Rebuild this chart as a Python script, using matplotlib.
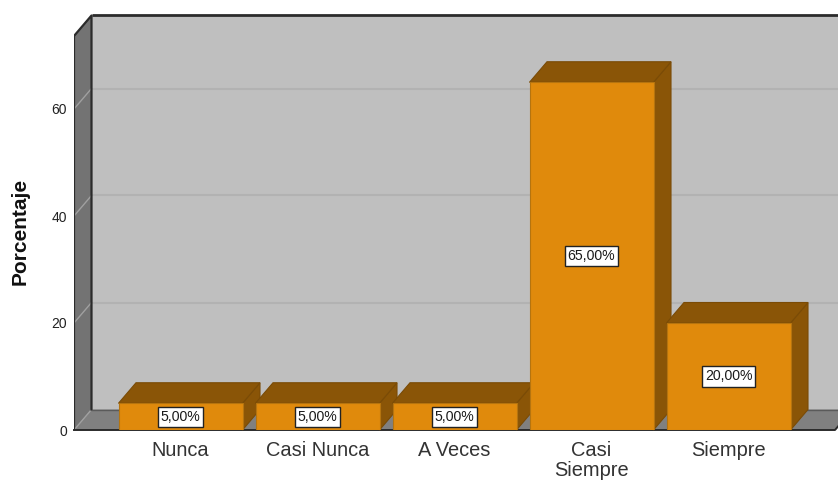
import matplotlib
matplotlib.use("Agg")
import matplotlib.pyplot as plt
from matplotlib.patches import Polygon

plt.rcParams['font.family'] = ['Liberation Sans', 'DejaVu Sans']

categorias = ["Nunca", "Casi Nunca", "A Veces", "Casi\nSiempre", "Siempre"]
porcentajes = [5, 5, 5, 65, 20]
etiquetas = ["5,00%", "5,00%", "5,00%", "65,00%", "20,00%"]
marcas_y = [0, 20, 40, 60]

# escala en pixeles de la figura
px_x = 137.0
px_y = 5.35
dx = 17.5 / px_x
dy = 20.5 / px_y
ancho = 124 / px_x
x_min = (74 - 180.5) / px_x
x_max = (838 - 180.5) / px_x
x_suelo = (835 - 180.5) / px_x
y_max = 430 / px_y
y_techo = (430 - 36) / px_y

fig = plt.figure(figsize=(8.38, 4.8), dpi=100)
ax = fig.add_axes([74 / 838, 50 / 480, 764 / 838, 430 / 480])
ax.set_xlim(x_min, x_max)
ax.set_ylim(0, y_max)
for s in ax.spines.values():
    s.set_visible(False)


def poligono(puntos, color, borde=None, lw=0.0, z=1):
    ax.add_patch(Polygon(puntos, closed=True, facecolor=color, edgecolor=borde or color,
                         linewidth=lw, zorder=z, clip_on=False))


# paredes y suelo
poligono([(x_min + dx, dy), (x_max + 1, dy), (x_max + 1, y_techo + dy), (x_min + dx, y_techo + dy)], "#BFBFBF")
poligono([(x_min, 0), (x_min + dx, dy), (x_min + dx, y_techo + dy), (x_min, y_techo)], "#737373")
poligono([(x_min, 0), (x_suelo, 0), (x_suelo + dx, dy), (x_min + dx, dy)], "#808080")

# lineas de rejilla
for v in marcas_y[1:]:
    ax.plot([x_min + dx, x_max], [v + dy, v + dy], color="#B2B2B2", lw=1.5, zorder=2)
    ax.plot([x_min, x_min + dx], [v, v + dy], color="#A0A0A0", lw=1.0, zorder=2)
ax.plot([x_min, x_min + dx], [0, dy], color="#A0A0A0", lw=1.0, zorder=2)

# bordes oscuros
borde = "#2B2B2B"
ax.plot([x_min + dx, x_max], [y_techo + dy, y_techo + dy], color=borde, lw=2.0, zorder=3, solid_capstyle="butt")
ax.plot([x_min, x_min, x_min + dx, x_min + dx], [0, y_techo, y_techo + dy, dy], color=borde, lw=1.6, zorder=3)
ax.plot([x_min + dx, x_suelo + dx], [dy, dy], color="#5A5A5A", lw=1.0, zorder=3)
ax.plot([x_min, x_suelo, x_suelo + dx], [0, 0, dy], color=borde, lw=1.4, zorder=3, clip_on=False)

# barras 3D
for i, (v, t) in enumerate(zip(porcentajes, etiquetas)):
    izq = i - ancho / 2
    der = i + ancho / 2
    z = 5 + i
    poligono([(der, 0), (der + dx, dy), (der + dx, v + dy), (der, v)], "#8A5507", "#7A4B06", 0.8, z)
    poligono([(izq, v), (der, v), (der + dx, v + dy), (izq + dx, v + dy)], "#8A5507", "#7A4B06", 0.8, z)
    ax.bar(i, v, width=ancho, color="#E08A0C", edgecolor="#B5740F", linewidth=0.8, zorder=z)
    ax.text(i, v / 2, t, ha="center", va="center", fontsize=10.2, color="#1A1A1A", zorder=20,
            bbox=dict(boxstyle="square,pad=0.22", facecolor="white", edgecolor="#222222", linewidth=1.0))

ax.set_xticks(range(len(categorias)))
ax.set_xticklabels(categorias, fontsize=14.4, color="#333333", linespacing=1.05)
ax.set_yticks(marcas_y)
ax.set_yticklabels([str(v) for v in marcas_y], fontsize=10, color="#222222")
ax.tick_params(axis="x", length=0, pad=8)
ax.tick_params(axis="y", length=0, pad=5)
ax.set_ylabel("Porcentaje", fontsize=15, fontweight="bold", color="#111111", labelpad=0)
ax.yaxis.set_label_coords(-(74 - 30) / 764, (430 - 231) / 430)

fig.savefig("out.png", dpi=100, facecolor="white")
